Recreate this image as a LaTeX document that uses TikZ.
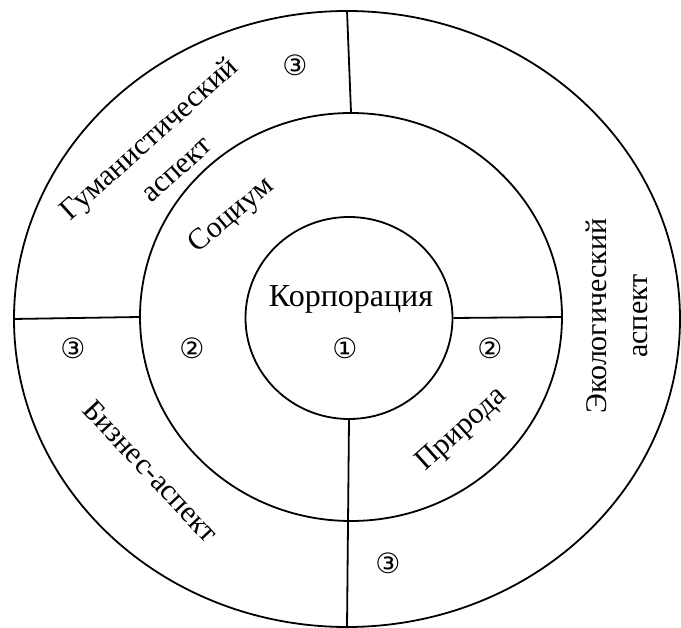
\documentclass[tikz,border=0pt]{standalone}
\usepackage{fontspec}
\setmainfont{Liberation Serif}
\newfontfamily\circfont{DejaVu Sans}
\usepackage{tikz}
\usetikzlibrary{shapes.geometric}

\begin{document}
\begin{tikzpicture}[x=1pt,y=-1pt,
  ring/.style={draw,ellipse,line width=1.8pt,inner sep=0pt},
  lbl/.style={font=\fontsize{30}{41}\selectfont,align=center,inner sep=0pt},
  num/.style={font=\circfont\fontsize{28}{28}\selectfont,inner sep=0pt}]
\useasboundingbox (0,0) rectangle (681,628);
% rings
\node[ring,minimum width=666pt,minimum height=616pt] (outer) at (347,319) {};
\node[ring,minimum width=422pt,minimum height=408pt] (middle) at (351,317) {};
\node[ring,minimum width=207pt,minimum height=202pt] (inner) at (349,318) {};
% dividers
\draw[line width=1.8pt] (outer.north) -- (middle.north);
\draw[line width=1.8pt] (outer.west) -- (middle.west);
\draw[line width=1.8pt] (inner.east) -- (middle.east);
\draw[line width=1.8pt] (inner.south) -- (outer.south);
% labels
\node[lbl,font=\fontsize{32}{38}\selectfont] (corp) at (351,299) {Корпорация};
\node[lbl,rotate=40] (soc) at (232,216) {Социум};
\node[lbl,rotate=42] (hum) at (162,153) {Гуманистический\\аспект};
\node[lbl,rotate=-47] (bus) at (151,471) {Бизнес-аспект};
\node[lbl,rotate=42] (nat) at (462,430) {Природа};
\node[lbl,rotate=90] (eco) at (617,316) {Экологический\\аспект};
% numbers
\node[num] (n1) at (345,348) {①};
\node[num] (n2l) at (192,348) {②};
\node[num] (n2r) at (490,348) {②};
\node[num] (n3t) at (295,65) {③};
\node[num] (n3l) at (73,348) {③};
\node[num] (n3b) at (388,563) {③};
\end{tikzpicture}
\end{document}
